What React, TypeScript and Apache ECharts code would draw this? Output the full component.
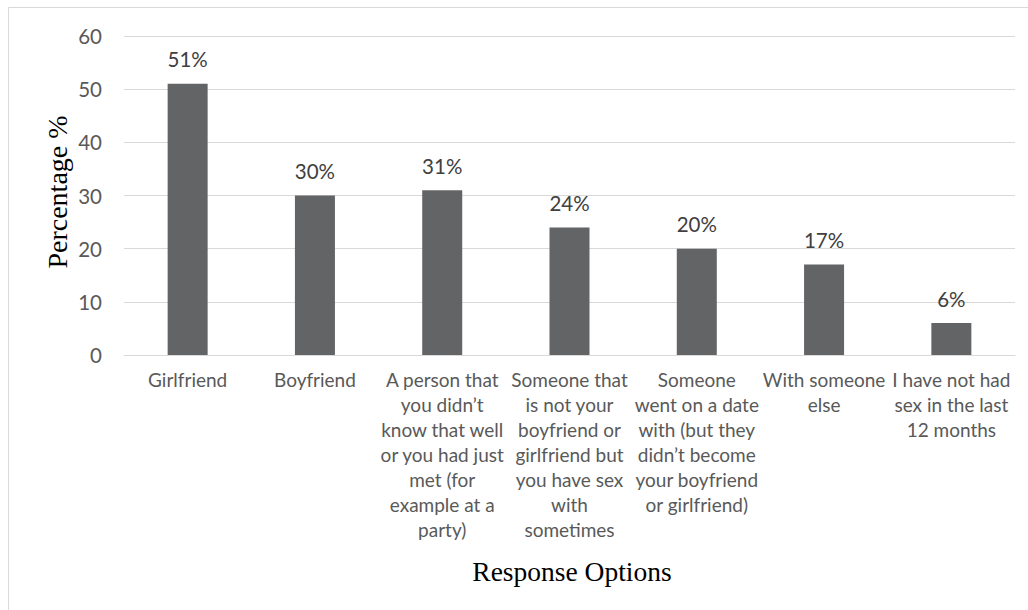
import React, { useEffect, useRef } from "react";
import * as echarts from "echarts";

const categories: string[] = [
  "Girlfriend",
  "Boyfriend",
  "A person that\nyou didn’t\nknow that well\nor you had just\nmet (for\nexample at a\nparty)",
  "Someone that\nis not your\nboyfriend or\ngirlfriend but\nyou have sex\nwith\nsometimes",
  "Someone\nwent on a date\nwith (but they\ndidn’t become\nyour boyfriend\nor girlfriend)",
  "With someone\nelse",
  "I have not had\nsex in the last\n12 months",
];
const percentages: number[] = [51, 30, 31, 24, 20, 17, 6];
const yTicks = { min: 0, max: 60, interval: 10 };
const yAxisTitle = "Percentage %";
const xAxisTitle = "Response Options";

export default function App() {
  const ref = useRef<HTMLDivElement>(null);
  useEffect(() => {
    if (!ref.current) return;
    const chart = echarts.init(ref.current, null, { renderer: "svg" });
    chart.setOption({
      animation: false,
      backgroundColor: "#ffffff",
      grid: { left: 124, right: 13, top: 36, bottom: 255, containLabel: false },
      xAxis: {
        type: "category",
        data: categories,
        axisLine: { show: true, lineStyle: { color: "#d9d9d9", width: 1 } },
        axisTick: { show: false },
        axisLabel: {
          interval: 0,
          color: "#595959",
          fontFamily: "Lato",
          fontSize: 19,
          lineHeight: 25,
          margin: 12,
          align: "center",
        },
      },
      yAxis: {
        type: "value",
        min: yTicks.min,
        max: yTicks.max,
        interval: yTicks.interval,
        axisLine: { show: false },
        axisTick: { show: false },
        splitLine: { lineStyle: { color: "#d9d9d9", width: 1 } },
        axisLabel: {
          color: "#595959",
          fontFamily: "Lato",
          fontSize: 20.5,
          margin: 22,
        },
      },
      series: [
        {
          type: "bar",
          data: percentages,
          barWidth: 40,
          itemStyle: { color: "#636466" },
          label: {
            show: true,
            position: "top",
            distance: 14,
            formatter: (p: any) => `${p.value}%`,
            color: "#404040",
            fontFamily: "Lato",
            fontSize: 20.5,
          },
        },
      ],
      graphic: [
        {
          type: "rect",
          shape: { x: 8.5, y: 7.5, width: 1200, height: 800 },
          style: { fill: "none", stroke: "#d9d9d9", lineWidth: 1 },
          silent: true,
        },
        {
          type: "text",
          x: 57,
          y: 192,
          rotation: Math.PI / 2,
          style: {
            text: yAxisTitle,
            fontFamily: "Liberation Serif",
            fontSize: 28,
            fill: "#000000",
            align: "center",
            verticalAlign: "middle",
          },
        },
        {
          type: "text",
          x: 572,
          y: 571,
          style: {
            text: xAxisTitle,
            fontFamily: "Liberation Serif",
            fontSize: 27.5,
            fill: "#000000",
            align: "center",
            verticalAlign: "middle",
          },
        },
      ],
    });
    return () => chart.dispose();
  }, []);
  return (
    <div
      ref={ref}
      style={{ position: "fixed", left: 0, top: 0, width: 1028, height: 610 }}
    />
  );
}
